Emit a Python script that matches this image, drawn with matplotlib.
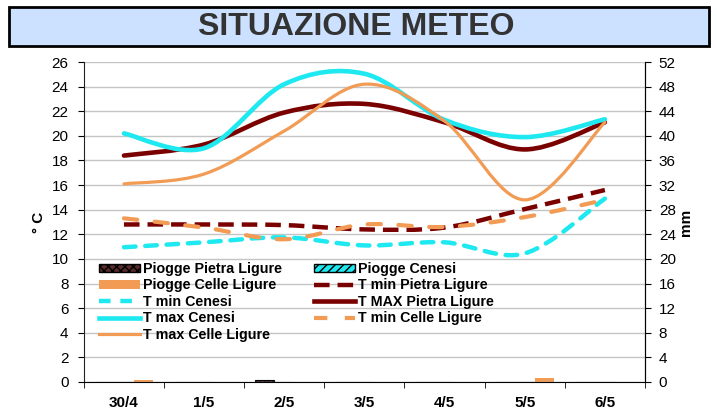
import numpy as np
import matplotlib.pyplot as plt
from matplotlib.path import Path
from matplotlib.patches import PathPatch, Rectangle, Patch
from matplotlib.lines import Line2D

plt.rcParams['font.family'] = ['Liberation Sans', 'DejaVu Sans']

giorni = ['30/4', '1/5', '2/5', '3/5', '4/5', '5/5', '6/5']

# pioggia (mm)
piogge_pietra = [0.0, 0.0, 0.4, 0.0, 0.0, 0.0, 0.0]
piogge_cenesi = [0.0, 0.0, 0.0, 0.0, 0.0, 0.0, 0.0]
piogge_celle = [0.4, 0.0, 0.0, 0.0, 0.0, 0.7, 0.0]

# temperature (°C)
tmin_pietra = [12.8, 12.8, 12.75, 12.4, 12.55, 14.05, 15.6]
tmin_cenesi = [10.95, 11.35, 11.75, 11.1, 11.35, 10.45, 14.9]
tmax_pietra = [18.4, 19.3, 21.9, 22.6, 21.1, 18.9, 21.1]
tmax_cenesi = [20.2, 19.0, 24.2, 25.05, 21.3, 19.9, 21.35]
tmin_celle = [13.3, 12.55, 11.6, 12.8, 12.6, 13.4, 14.8]
tmax_celle = [16.1, 16.9, 20.4, 24.2, 21.2, 14.8, 21.1]

C_CYAN = '#1EE8F0'
C_RED = '#7A0000'
C_ORANGE = '#F29B55'


def smooth_path(xs, ys):
    # Bezier a la Excel (Catmull-Rom)
    p = np.column_stack([xs, ys]).astype(float)
    n = len(p)
    verts = [p[0]]
    codes = [Path.MOVETO]
    for i in range(n - 1):
        p0 = p[i - 1] if i > 0 else p[i]
        p3 = p[i + 2] if i + 2 < n else p[i + 1]
        c1 = p[i] + (p[i + 1] - p0) / 6.0
        c2 = p[i + 1] - (p3 - p[i]) / 6.0
        verts += [c1, c2, p[i + 1]]
        codes += [Path.CURVE4] * 3
    return Path(verts, codes)


fig = plt.figure(figsize=(7.17, 4.11), dpi=100)

# riquadro titolo
fig.patches.append(Rectangle((0.0126, 0.888), 0.976, 0.0949, transform=fig.transFigure,
                             facecolor='#CCE0FF', edgecolor='black', linewidth=2))
fig.text(0.497, 0.934, 'SITUAZIONE METEO', ha='center', va='center',
         fontsize=23, fontweight='bold', color='#333333')

ax = fig.add_axes([0.117, 0.0706, 0.7825, 0.7784])
ax2 = ax.twinx()

x = np.arange(len(giorni))
w = 0.245

# temperature lines on ax
ax.set_zorder(2)
ax.patch.set_visible(False)

series = [
    (tmin_pietra, C_RED, 3.2, (0, (3.5, 1.8)), 'butt'),
    (tmin_cenesi, C_CYAN, 3.2, (0, (2.6, 2.2)), 'round'),
    (tmax_pietra, C_RED, 3.3, '-', 'round'),
    (tmax_cenesi, C_CYAN, 3.3, '-', 'round'),
    (tmin_celle, C_ORANGE, 3.0, (0, (3.2, 4.2)), 'round'),
    (tmax_celle, C_ORANGE, 2.3, '-', 'round'),
]
for ys, col, lw, ls, cap in series:
    pp = PathPatch(smooth_path(x, ys), fill=False, edgecolor=col, linewidth=lw,
                   linestyle=ls, capstyle=cap, joinstyle='round')
    ax.add_patch(pp)

ax.set_xlim(-0.5, 6.5)
ax.set_ylim(0, 26)
ax.set_yticks(np.arange(0, 27, 2))
ax.grid(axis='y', color='#C4C4C4', linewidth=1)
ax.set_axisbelow(True)

# rain bars on ax2
ax2.bar(x - w, piogge_pietra, w, color='#5A2A2A', edgecolor='black', hatch='xxxx', linewidth=0.8)
ax2.bar(x, piogge_cenesi, w, color=C_CYAN, edgecolor='black', hatch='////', linewidth=0.8)
ax2.bar(x + w, piogge_celle, w, color=C_ORANGE, edgecolor='none')
ax2.set_ylim(0, 52)
ax2.set_yticks(np.arange(0, 53, 4))

ax.set_xticks(x)
ax.set_xticklabels(giorni, fontsize=11, fontweight='bold')
ax.set_xticks(np.arange(-0.5, 7, 1), minor=True)
ax.tick_params(axis='x', which='major', length=0, pad=10)
ax.tick_params(axis='x', which='minor', length=4.5, direction='out', color='black')
ax.tick_params(axis='y', length=4, pad=7, labelsize=11, colors='black')
ax2.tick_params(axis='y', length=4, pad=6, labelsize=11)

for a in (ax, ax2):
    a.spines['top'].set_visible(False)
ax.spines['left'].set_color('#222222')
ax.spines['bottom'].set_color('black')
ax2.spines['right'].set_color('black')
ax2.spines['left'].set_visible(False)
ax2.spines['bottom'].set_visible(False)

ax.set_ylabel('° C', fontsize=11, fontweight='bold', labelpad=4)
ax2.set_ylabel('mm', fontsize=11, fontweight='bold', labelpad=2)

# legenda
handles = [
    Patch(facecolor='#5A2A2A', edgecolor='black', hatch='xxxx', label='Piogge Pietra Ligure'),
    Patch(facecolor=C_ORANGE, edgecolor='none', label='Piogge Celle Ligure'),
    Line2D([], [], color=C_CYAN, lw=3.2, ls=(0, (2.6, 2.2)), label='T min Cenesi'),
    Line2D([], [], color=C_CYAN, lw=3.3, label='T max Cenesi'),
    Line2D([], [], color=C_ORANGE, lw=2.3, label='T max Celle Ligure'),
    Patch(facecolor=C_CYAN, edgecolor='black', hatch='////', label='Piogge Cenesi'),
    Line2D([], [], color=C_RED, lw=3.2, ls=(0, (3.5, 1.8)), label='T min Pietra Ligure'),
    Line2D([], [], color=C_RED, lw=3.3, label='T MAX Pietra Ligure'),
    Line2D([], [], color=C_ORANGE, lw=3.0, ls=(0, (3.2, 4.2)), label='T min Celle Ligure'),
]
leg = ax.legend(handles=handles, ncol=2, loc='upper left', frameon=False,
                bbox_to_anchor=(99 / 717, 1 - 262 / 411), bbox_transform=fig.transFigure,
                prop={'size': 10.3, 'weight': 'bold'}, handlelength=2.9, handleheight=0.55,
                handletextpad=0.2, columnspacing=2.2, labelspacing=0.17,
                borderpad=0, borderaxespad=0)

fig.savefig('out.png', dpi=100)
